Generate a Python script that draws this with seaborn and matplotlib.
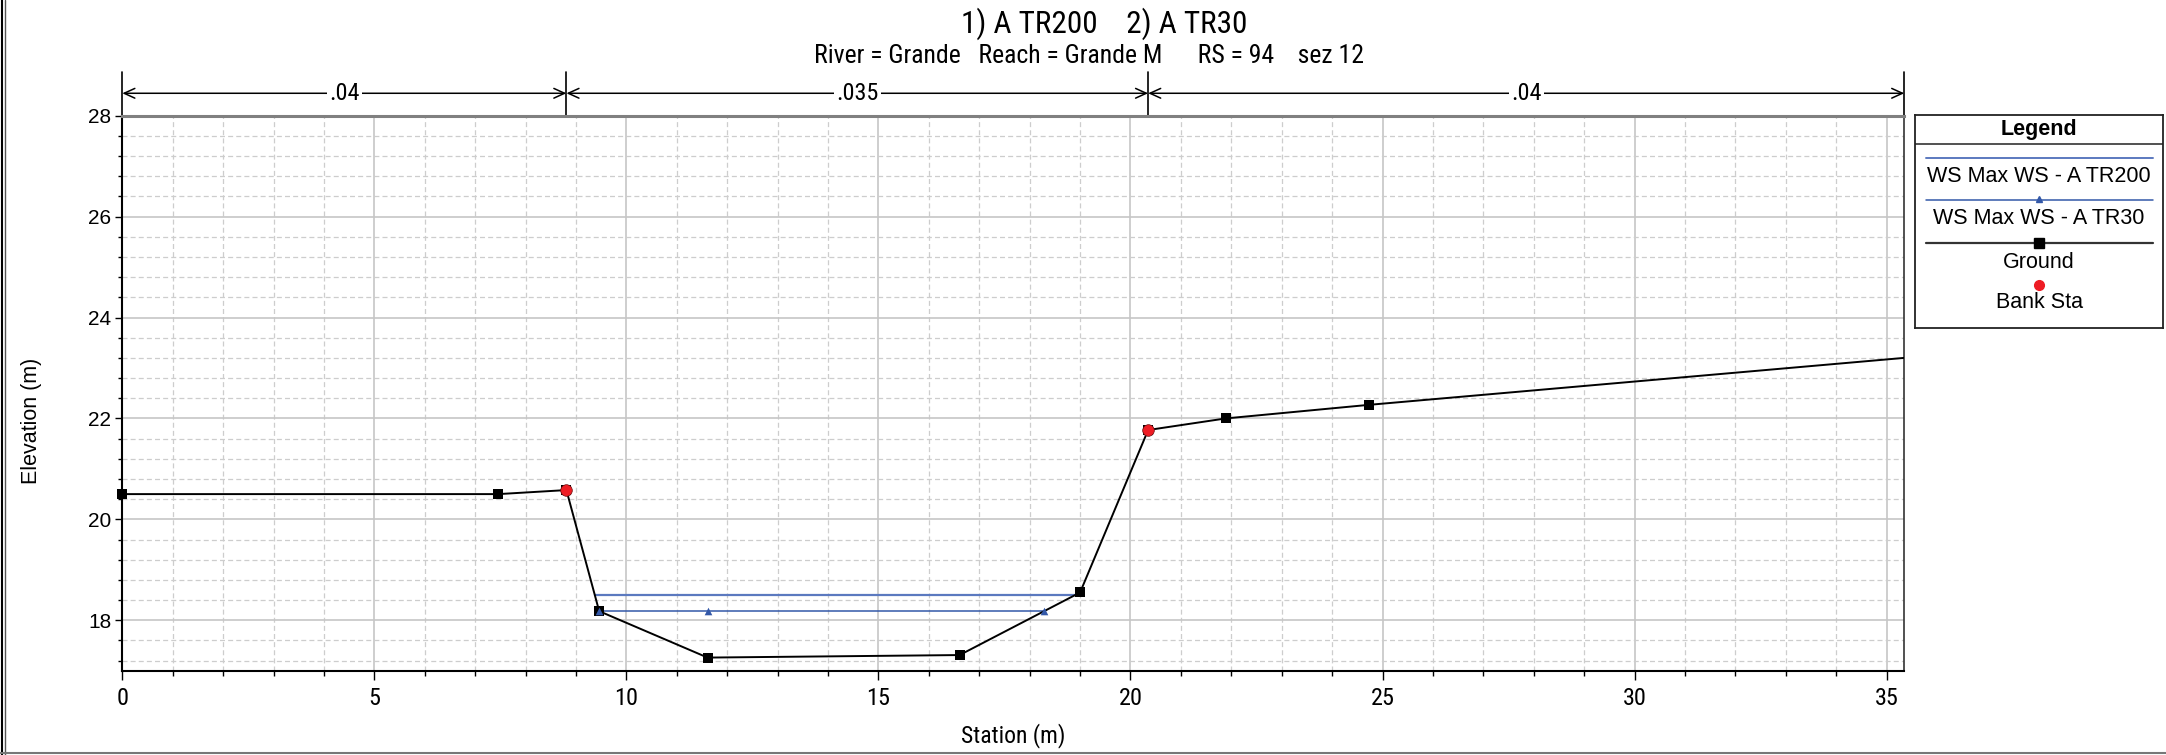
#  HEC-RAS style cross section : River Grande, RS 94 (sez 12)

import matplotlib
matplotlib.use("Agg")
import matplotlib.pyplot as plt
import matplotlib.transforms as mtransforms
from matplotlib.lines import Line2D
from matplotlib.ticker import MultipleLocator
import pandas as pd
import seaborn as sns

# ground profile
station = [0.0, 7.46, 8.81, 9.46, 11.61, 16.61, 19.00, 20.35, 21.89, 24.74, 35.35]
elevation = [20.50, 20.50, 20.58, 18.18, 17.26, 17.31, 18.55, 21.77, 22.00, 22.27, 23.20]

# bank stations
bank_sta = [8.81, 20.35]
bank_elev = [20.58, 21.77]

# water surfaces
ws_tr200_x = [9.37, 19.00]
ws_tr200_y = [18.51, 18.51]
ws_tr30_x = [9.46, 11.61, 18.29]
ws_tr30_y = [18.18, 18.18, 18.18]

# manning's n regions
mann_edges = [0.0, 8.81, 20.35, 35.35]
mann_n = [".04", ".035", ".04"]

x_ticks = [0, 5, 10, 15, 20, 25, 30, 35]
y_ticks = [18, 20, 22, 24, 26, 28]

legend_labels = ["WS Max WS - A TR200", "WS Max WS - A TR30", "Ground", "Bank Sta"]

title = "1) A TR200    2) A TR30"
subtitle = "River = Grande   Reach = Grande M      RS = 94    sez 12"

sns.set_style("white")
plt.rcParams["font.family"] = ["Liberation Sans", "DejaVu Sans"]
plt.rcParams["text.color"] = "black"
plt.rcParams["axes.labelcolor"] = "black"
plt.rcParams["xtick.color"] = "black"
plt.rcParams["ytick.color"] = "black"
NARROW = ["Liberation Sans Narrow", "Roboto Condensed", "Liberation Sans"]

ground = pd.DataFrame({"station": station, "elevation": elevation})
banks = pd.DataFrame({"station": bank_sta, "elevation": bank_elev})
tr200 = pd.DataFrame({"station": ws_tr200_x, "elevation": ws_tr200_y})
tr30 = pd.DataFrame({"station": ws_tr30_x, "elevation": ws_tr30_y})

fig = plt.figure(figsize=(21.66, 7.55), dpi=100)
ax = fig.add_axes([0.05646, 0.11166, 0.82271, 0.73510])

# water surfaces
sns.lineplot(data=tr200, x="station", y="elevation", ax=ax, color="#5b79bf",
             lw=1.6, sort=False, estimator=None, zorder=3)
sns.lineplot(data=tr30, x="station", y="elevation", ax=ax, color="#3358a8",
             lw=1.1, sort=False, estimator=None, zorder=3)
sns.scatterplot(data=tr30, x="station", y="elevation", ax=ax, marker="^",
                color="#3358a8", s=30, linewidth=0, zorder=6)

# ground
sns.lineplot(data=ground, x="station", y="elevation", ax=ax, color="black",
             lw=1.4, sort=False, estimator=None, zorder=4)
sns.scatterplot(data=ground.iloc[:-1], x="station", y="elevation", ax=ax,
                marker="s", color="black", s=55, linewidth=0, zorder=5,
                clip_on=False)
sns.scatterplot(data=banks, x="station", y="elevation", ax=ax, marker="o",
                color="#ee1c24", s=70, edgecolor="#6a1010", linewidth=0.5, zorder=7)

ax.set_xlim(0, 35.35)
ax.set_ylim(17.0, 28.0)
ax.xaxis.set_minor_locator(MultipleLocator(1))
ax.yaxis.set_minor_locator(MultipleLocator(0.4))
ax.set_xticks(x_ticks)
ax.set_xticklabels([str(t) for t in x_ticks], fontfamily=NARROW, fontsize=17.5)
ax.set_yticks(y_ticks)
ax.set_yticklabels([str(t) for t in y_ticks], fontsize=15)

ax.grid(which="major", color="#c6c6c6", lw=1.2, ls="-")
ax.grid(which="minor", color="#cdcdcd", lw=0.9, ls=(0, (4, 2.5)))
ax.set_axisbelow(True)

ax.tick_params(axis="x", which="major", length=6.5, width=1, color="black", pad=5)
ax.tick_params(axis="x", which="minor", length=3.6, width=1, color="black")
ax.tick_params(axis="y", which="major", length=5, width=1, color="black", pad=3)
ax.tick_params(axis="y", which="minor", length=3.2, width=1, color="black")
ax.tick_params(bottom=True, left=True, which="both")

for side in ["left", "bottom"]:
    ax.spines[side].set_color("black")
    ax.spines[side].set_linewidth(1.5)
ax.spines["top"].set_color("#808080")
ax.spines["top"].set_linewidth(2.2)
ax.spines["right"].set_color("#333333")
ax.spines["right"].set_linewidth(1.2)

ax.set_xlabel("Station (m)", fontfamily=NARROW, fontsize=17)
ax.xaxis.label.set_va("center")
ax.xaxis.set_label_coords(0.5, -0.1177)
ax.set_ylabel("Elevation (m)", fontsize=15.5)
ax.yaxis.label.set_va("center")
ax.yaxis.set_label_coords(-0.051, 0.45)

# manning's n bar above the plot
trans = mtransforms.blended_transform_factory(ax.transData, ax.transAxes)
for xe in mann_edges:
    ax.plot([xe, xe], [1.0, 1.078], transform=trans, color="black", lw=1.2,
            clip_on=False)
for i, n in enumerate(mann_n):
    ax.annotate("", xy=(mann_edges[i], 1.0404), xytext=(mann_edges[i + 1], 1.0404),
                xycoords=trans, textcoords=trans, annotation_clip=False,
                arrowprops=dict(arrowstyle="<->,head_length=0.55,head_width=0.25",
                                color="black", lw=1.1, shrinkA=0, shrinkB=0,
                                mutation_scale=14))
    mid = (mann_edges[i] + mann_edges[i + 1]) / 2
    ax.text(mid, 1.0404, n, transform=trans, ha="center", va="center",
            fontfamily=NARROW, fontsize=17.5, zorder=10,
            bbox=dict(facecolor="white", edgecolor="none", pad=1.5))

fig.text(0.51, 0.968, title, ha="center", va="center", fontfamily=NARROW, fontsize=22.5)
fig.text(0.503, 0.926, subtitle, ha="center", va="center", fontfamily=NARROW, fontsize=18.5)

# legend box (pixel-like coordinates inside its own axes)
lax = fig.add_axes([1915 / 2166, (755 - 328) / 755, 248 / 2166, 213 / 755])
lax.set_xlim(1915, 2163)
lax.set_ylim(328, 115)
lax.set_xticks([])
lax.set_yticks([])
for sp in lax.spines.values():
    sp.set_color("#222222")
    sp.set_linewidth(1.3)
lax.plot([1915, 2163], [144.3, 144.3], color="#222222", lw=1.1)
lax.text(2039, 129, "Legend", ha="center", va="center", fontsize=15.5, fontweight="bold")
lax.plot([1926, 2153], [157.5, 157.5], color="#5b79bf", lw=1.4)
lax.plot([1926, 2153], [200, 200], color="#3358a8", lw=1.1)
lax.plot([2039], [199], marker="^", color="#3358a8", ms=5, lw=0)
lax.plot([1926, 2153], [242.7, 242.7], color="#333333", lw=1.6)
lax.plot([2039], [242.7], marker="s", color="black", ms=6.5, lw=0)
lax.plot([2039], [285], marker="o", color="#ee1c24", ms=7, lw=0)
for lbl, yy in zip(legend_labels, [176.5, 219, 262, 303]):
    lax.text(2039, yy, lbl, ha="center", va="center", fontsize=15.5)

# outer frame of the figure
fig.add_artist(Line2D([0.0007, 0.0007], [0, 1], transform=fig.transFigure, color="black", lw=1.5))
fig.add_artist(Line2D([0.0021, 0.0021], [0, 1], transform=fig.transFigure, color="#555555", lw=1.0))
fig.add_artist(Line2D([0, 1], [0.0027, 0.0027], transform=fig.transFigure, color="#777777", lw=1.5))

fig.savefig("out.png", dpi=100)
